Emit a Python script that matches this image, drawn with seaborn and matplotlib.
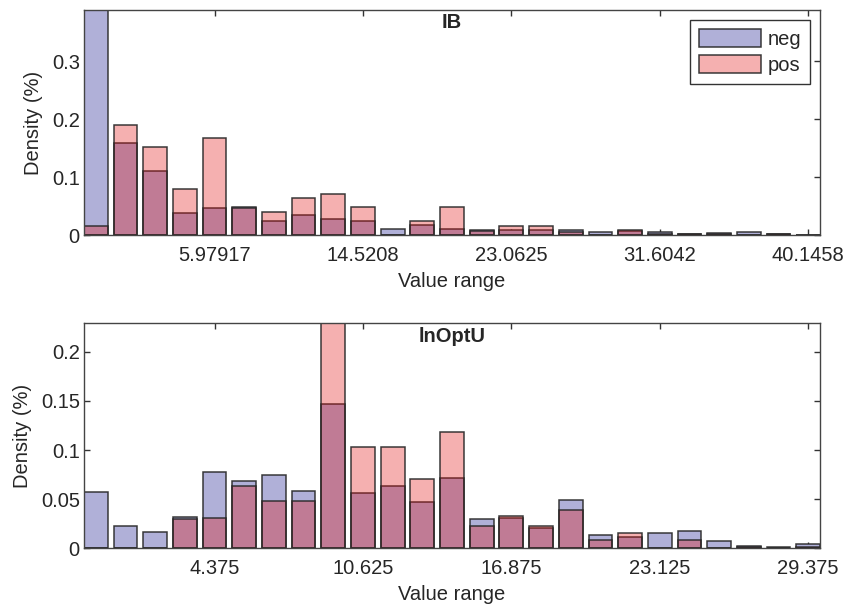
import numpy as np
import pandas as pd
import matplotlib
matplotlib.use("Agg")
import matplotlib.pyplot as plt
import seaborn as sns

# ---- IB panel (25 bins) ----
ib_lo, ib_width = -1.708333, 1.708333
ib_neg = [0.42, 0.159, 0.110, 0.038, 0.047, 0.048, 0.025, 0.034, 0.028, 0.025,
          0.010, 0.018, 0.011, 0.008, 0.009, 0.009, 0.008, 0.006, 0.007, 0.006,
          0.002, 0.004, 0.005, 0.002, 0.0]
ib_pos = [0.016, 0.190, 0.151, 0.079, 0.167, 0.047, 0.039, 0.063, 0.071, 0.048,
          0.0, 0.025, 0.048, 0.007, 0.016, 0.016, 0.006, 0.0, 0.008, 0.001,
          0.002, 0.001, 0.0, 0.002, 0.0]
ib_xticks = [5.97917, 14.5208, 23.0625, 31.6042, 40.1458]
ib_xticklabels = ["5.97917", "14.5208", "23.0625", "31.6042", "40.1458"]
ib_yticks = [0, 0.1, 0.2, 0.3]
ib_yticklabels = ["0", "0.1", "0.2", "0.3"]
ib_ymax = 0.388

# ---- lnOptU panel (25 bins) ----
opt_lo, opt_width = -1.25, 1.25
opt_neg = [0.057, 0.023, 0.017, 0.032, 0.078, 0.069, 0.075, 0.058, 0.147, 0.056,
           0.063, 0.047, 0.072, 0.030, 0.031, 0.021, 0.049, 0.014, 0.012, 0.016,
           0.018, 0.007, 0.002, 0.001, 0.004]
opt_pos = [0.0, 0.0, 0.0, 0.030, 0.031, 0.063, 0.048, 0.048, 0.26, 0.103,
           0.103, 0.071, 0.118, 0.023, 0.033, 0.023, 0.039, 0.008, 0.016, 0.0,
           0.008, 0.0, 0.001, 0.0, 0.001]
opt_xticks = [4.375, 10.625, 16.875, 23.125, 29.375]
opt_xticklabels = ["4.375", "10.625", "16.875", "23.125", "29.375"]
opt_yticks = [0, 0.05, 0.1, 0.15, 0.2]
opt_yticklabels = ["0", "0.05", "0.1", "0.15", "0.2"]
opt_ymax = 0.229

NEG = (176 / 255, 176 / 255, 216 / 255, 1.0)
POS = (0.89, 0.06, 0.06, 0.33)
EDGE = (0.15, 0.15, 0.15, 0.9)
FS = 14.5

sns.set_style("ticks")
plt.rcParams["font.family"] = ["Liberation Sans", "DejaVu Sans"]
plt.rcParams["font.size"] = FS
plt.rcParams["axes.linewidth"] = 1.0
plt.rcParams["axes.edgecolor"] = "#444444"


def draw_panel(ax, lo, width, neg, pos, xticks, xticklabels, yticks, yticklabels,
               ymax, title, legend=False):
    n = len(neg)
    edges = [lo + width * k for k in range(n + 1)]
    df = pd.DataFrame({"center": [lo + width * (k + 0.5) for k in range(n)],
                       "neg": neg, "pos": pos})
    sns.histplot(data=df, x="center", weights="neg", bins=edges, shrink=0.8,
                 facecolor=NEG, edgecolor=EDGE, linewidth=1.1, label="neg", ax=ax)
    sns.histplot(data=df, x="center", weights="pos", bins=edges, shrink=0.8,
                 facecolor=POS, edgecolor=EDGE, linewidth=1.1, label="pos", ax=ax)
    ax.set_xlim(edges[0] + 0.1 * width, edges[-1] - 0.1 * width)
    ax.set_ylim(0, ymax)
    ax.set_xticks(xticks)
    ax.set_xticklabels(xticklabels)
    ax.set_yticks(yticks)
    ax.set_yticklabels(yticklabels)
    ax.tick_params(direction="in", length=4, width=1, color="#333333",
                   top=True, right=True, labelsize=FS)
    ax.tick_params(axis="x", pad=8)
    ax.tick_params(axis="y", pad=3)
    for s in ax.spines.values():
        s.set_visible(True)
    ax.set_xlabel("Value range", fontsize=FS, labelpad=5)
    ax.set_ylabel("Density (%)", fontsize=FS, labelpad=6)
    ax.text(0.5, 0.985, title, transform=ax.transAxes, ha="center", va="top",
            fontsize=FS, fontweight="bold")
    if legend:
        ax.legend(loc="upper right", fancybox=False, edgecolor="#333333",
                  framealpha=1, fontsize=FS, handlelength=3.1, handleheight=1.0,
                  borderaxespad=0.5, borderpad=0.45, labelspacing=0.3,
                  handletextpad=0.3)


fig = plt.figure(figsize=(8.5, 6.06), dpi=100)
ax1 = fig.add_axes([0.0988, 0.6122, 0.8659, 0.3713])
ax2 = fig.add_axes([0.0988, 0.0952, 0.8659, 0.3713])

draw_panel(ax1, ib_lo, ib_width, ib_neg, ib_pos, ib_xticks, ib_xticklabels,
           ib_yticks, ib_yticklabels, ib_ymax, "IB", legend=True)
draw_panel(ax2, opt_lo, opt_width, opt_neg, opt_pos, opt_xticks, opt_xticklabels,
           opt_yticks, opt_yticklabels, opt_ymax, "lnOptU")

fig.savefig("out.png", dpi=100)
